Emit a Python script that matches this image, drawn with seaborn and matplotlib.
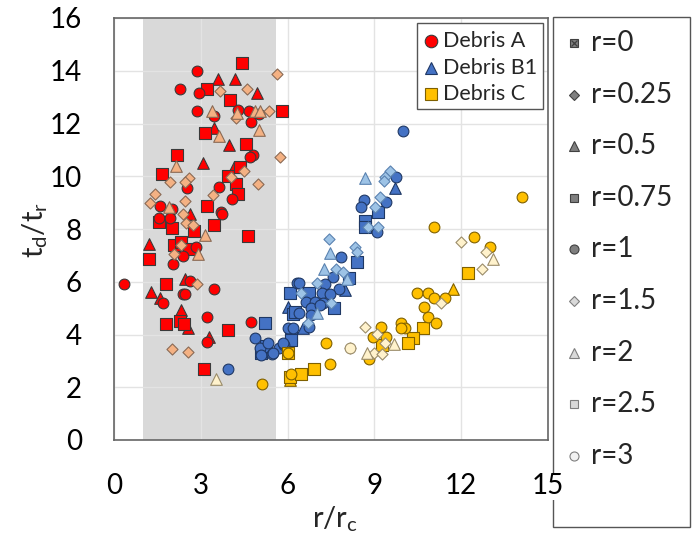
import matplotlib
matplotlib.use("Agg")
import matplotlib.pyplot as plt
import numpy as np
import pandas as pd
import seaborn as sns
from matplotlib.lines import Line2D
from matplotlib.patches import Rectangle

# ---------------------------------------------------------------- data
# Each debris set: x = r/rc, y = td/tr, r = r value of the run
debris_a_x = [4.44, 2.86, 3.61, 4.17, 5.64, 2.28, 3.20, 2.93, 3.68, 4.61, 4.94, 4.00,
              2.86, 3.40, 3.46, 4.25, 4.28, 4.23, 4.66, 4.86, 5.03, 5.01, 5.36, 5.79,
              4.72, 3.46, 3.14, 5.02, 3.62, 3.98, 4.57, 4.80, 4.71, 5.75, 2.17, 2.15,
              3.06, 1.66, 4.14, 4.37, 3.94, 4.06, 4.48, 4.23, 4.29, 4.98, 2.59, 1.93,
              2.45, 2.53, 3.62, 4.07, 3.43, 1.42, 1.26, 1.59, 1.90, 2.01, 2.46, 3.20,
              3.71, 3.74, 1.54, 1.93, 1.56, 2.37, 2.62, 2.48, 2.74, 3.46, 2.02, 2.77,
              3.14, 4.64, 1.21, 2.08, 2.30, 2.33, 2.82, 2.59, 2.07, 2.89, 2.37, 1.21,
              2.05, 0.36, 1.79, 2.44, 2.62, 2.87, 3.45, 1.28, 1.59, 1.68, 2.39, 2.46,
              2.33, 3.20, 4.72, 1.79, 2.28, 2.41, 2.56, 3.94, 3.29, 3.20, 2.02, 2.55,
              3.11]
debris_a_y = [14.31, 13.98, 13.67, 13.67, 13.89, 13.30, 13.30, 13.17, 13.23, 13.30, 13.17, 12.88,
              12.48, 12.46, 12.27, 12.40, 12.50, 12.22, 12.48, 12.46, 12.46, 12.37, 12.48, 12.48,
              12.06, 11.84, 11.64, 11.74, 11.52, 11.20, 11.24, 10.82, 10.73, 10.73, 10.82, 10.38,
              10.50, 10.10, 10.35, 10.35, 10.01, 9.97, 10.20, 9.70, 9.34, 9.70, 9.94, 9.79,
              9.79, 9.56, 9.58, 9.15, 9.28, 9.31, 8.97, 8.86, 8.84, 8.75, 9.05, 8.88,
              8.65, 8.55, 8.42, 8.42, 8.27, 8.55, 8.55, 8.23, 8.14, 8.14, 8.02, 7.92,
              7.77, 7.73, 7.45, 7.39, 7.39, 7.51, 7.30, 7.23, 7.07, 7.07, 6.97, 6.88,
              6.69, 5.93, 5.93, 6.12, 6.03, 5.93, 5.72, 5.62, 5.37, 5.20, 5.53, 5.53,
              4.92, 4.67, 4.48, 4.38, 4.51, 4.38, 4.23, 4.17, 3.89, 3.72, 3.45, 3.32,
              2.71]
debris_a_r = [0.75, 1, 0.5, 0.5, 1.5, 1, 0.75, 1, 1.5, 1.5, 0.5, 0.75,
              1, 2, 1, 2, 1, 1.5, 1, 2, 2, 1, 1.5, 0.75,
              1, 0.5, 0.75, 2, 2, 0.5, 0.75, 1, 1, 1.5, 0.75, 2,
              0.5, 0.75, 0.5, 0.75, 0.75, 1.5, 1.5, 0.75, 0.75, 1.5, 1.5, 1.5,
              1.5, 1, 1, 1, 1.5, 1.5, 1.5, 1, 2, 1, 1.5, 0.75,
              1, 1, 1, 1, 0.75, 1.5, 0.5, 1.5, 1.5, 0.75, 0.75, 0.75,
              2, 0.75, 0.5, 0.75, 1.5, 0.75, 1, 0.75, 1.5, 2, 1, 0.75,
              1, 1, 0.75, 0.5, 1, 1.5, 1, 0.5, 0.5, 1, 1, 1,
              0.5, 1, 1, 0.75, 0.75, 0.75, 0.5, 0.75, 0.5, 1, 1.5, 1.5,
              0.75]

debris_b1_x = [3.95, 5.22, 4.86, 5.03, 5.09, 5.09, 5.32, 5.25, 5.47, 5.72, 5.87, 6.01,
               6.18, 6.13, 6.07, 6.33, 6.03, 6.18, 7.43, 8.34, 8.39, 8.39, 7.47, 7.85,
               7.25, 7.68, 7.56, 7.93, 8.05, 8.11, 6.39, 7.02, 7.28, 7.77, 6.47, 6.74,
               7.19, 7.45, 6.62, 6.93, 7.22, 7.51, 7.62, 6.24, 6.41, 6.82, 7.13, 7.02,
               6.82, 6.72, 6.74, 6.53, 6.13, 5.84, 5.49, 7.97, 9.98, 8.66, 9.54, 9.38,
               9.34, 9.75, 9.72, 8.63, 8.55, 9.20, 9.40, 9.02, 9.14, 8.69, 8.69, 8.77,
               9.14, 9.08]
debris_b1_y = [2.69, 4.42, 3.88, 3.47, 3.28, 3.22, 3.66, 3.55, 3.26, 3.47, 3.60, 4.23,
               4.23, 3.91, 5.58, 5.97, 5.03, 4.77, 7.63, 7.32, 7.13, 6.73, 7.09, 6.92,
               6.50, 6.50, 6.19, 6.38, 6.12, 6.16, 5.96, 5.96, 5.93, 5.74, 5.59, 5.59,
               5.58, 5.55, 5.25, 5.25, 5.18, 5.20, 4.99, 4.84, 4.80, 4.99, 5.11, 4.80,
               4.73, 4.42, 4.27, 4.23, 3.81, 3.66, 3.28, 5.68, 11.70, 9.95, 10.20, 9.97,
               9.82, 9.97, 9.57, 9.09, 8.84, 9.22, 9.03, 8.84, 8.65, 8.30, 8.08, 8.06,
               8.08, 7.89]
debris_b1_r = [1, 0.75, 1, 1, 0.75, 1, 1, 0.75, 1, 1, 1, 1,
               1, 0.75, 0.75, 1, 0.5, 0.75, 1.5, 1.5, 1.5, 0.75, 2, 1,
               2, 1.5, 1, 1.5, 2, 0.75, 1, 1.5, 1, 1, 1.5, 0.75,
               1, 1, 1, 1, 1, 1.5, 0.75, 0.75, 1, 1, 1, 2,
               1, 1.5, 1, 0.5, 0.75, 1, 1, 0.5, 1, 2, 1.5, 1.5,
               1.5, 1, 0.5, 1, 1, 1.5, 1, 1.5, 0.75, 0.75, 0.75, 1.5,
               1.5, 1]

debris_c_x = [3.52, 6.01, 6.00, 6.13, 6.07, 5.11, 6.10, 6.47, 6.91, 7.31, 7.48, 8.14,
              8.14, 8.66, 8.94, 9.08, 9.23, 9.40, 9.37, 9.67, 9.26, 8.74, 8.98, 9.25,
              8.83, 9.92, 10.07, 9.92, 10.69, 10.32, 10.15, 10.84, 11.13, 10.72, 10.46, 10.84,
              11.07, 11.45, 11.30, 11.70, 12.24, 12.71, 13.11, 12.87, 13.00, 12.01, 12.44, 11.05,
              14.09]
debris_c_y = [2.30, 3.28, 3.30, 2.50, 2.40, 2.12, 2.27, 2.50, 2.71, 3.66, 2.88, 3.47,
              3.47, 4.27, 3.89, 4.02, 4.27, 3.89, 3.66, 3.64, 3.60, 3.28, 3.28, 3.26,
              3.06, 4.44, 4.25, 4.25, 4.25, 3.88, 3.66, 4.65, 4.42, 5.03, 5.58, 5.58,
              5.40, 5.40, 5.20, 5.74, 6.35, 6.50, 6.88, 7.13, 7.30, 7.51, 7.68, 8.06,
              9.22]
debris_c_r = [2, 0.75, 1, 1, 0.75, 1, 0.5, 0.75, 0.75, 1, 1, 3,
              1.5, 1.5, 1, 1.5, 1, 1, 1.5, 2, 0.75, 2, 1.5, 1.5,
              1, 1, 1, 1, 0.75, 0.75, 0.75, 1, 1, 1, 1, 1,
              1, 1, 1.5, 0.5, 0.75, 1.5, 2, 1.5, 1, 1.5, 1, 1,
              1]

debris_names = ["Debris A", "Debris B1", "Debris C"]
r_levels = [0, 0.25, 0.5, 0.75, 1, 1.5, 2, 2.5, 3]
r_labels = ["r=0", "r=0.25", "r=0.5", "r=0.75", "r=1", "r=1.5", "r=2", "r=2.5", "r=3"]
shaded_band = (1.0, 5.6)

# ---------------------------------------------------------------- styles
# (face, edge) for runs with r <= 1 and r >= 1.5
colors = {
    "Debris A": (("#FF0000", "#3a3a3a"), ("#F4B183", "#8a6a55")),
    "Debris B1": (("#4472C4", "#1f3864"), ("#9DC3E6", "#5a82b0")),
    "Debris C": (("#FFC000", "#7f6000"), ("#FFF2CC", "#9a8c6a")),
}
markers = {0: "s", 0.25: "D", 0.5: "^", 0.75: "s", 1: "o",
           1.5: "D", 2: "^", 2.5: "s", 3: "o"}
sizes = {"o": 60, "s": 64, "^": 70, "D": 32}

frames = []
for name, xs, ys, rs in [("Debris A", debris_a_x, debris_a_y, debris_a_r),
                         ("Debris B1", debris_b1_x, debris_b1_y, debris_b1_r),
                         ("Debris C", debris_c_x, debris_c_y, debris_c_r)]:
    frames.append(pd.DataFrame({"x": xs, "y": ys, "r": rs, "debris": name}))
df = pd.concat(frames, ignore_index=True)

# ---------------------------------------------------------------- figure
sns.set_theme(style="white")
plt.rcParams["font.family"] = ["Lato", "DejaVu Sans"]
plt.rcParams["mathtext.fontset"] = "custom"
plt.rcParams["mathtext.rm"] = "Lato"
plt.rcParams["mathtext.it"] = "Lato"

W, H = 696, 547
fig = plt.figure(figsize=(W / 100, H / 100), dpi=100)
ax = fig.add_axes([114 / W, 1 - 440 / H, (548 - 114) / W, (440 - 18) / H])

ax.axvspan(*shaded_band, color="#D9D9D9", zorder=0.2, lw=0)

for name in debris_names:
    for r in r_levels:
        sub = df[(df.debris == name) & (df.r == r)]
        if sub.empty:
            continue
        face, edge = colors[name][0 if r <= 1 else 1]
        m = markers[r]
        sns.scatterplot(data=sub, x="x", y="y", ax=ax, marker=m, s=sizes[m],
                        color=face, edgecolor=edge, linewidth=0.8,
                        legend=False, zorder=2)

ax.set_xlim(0, 15)
ax.set_ylim(0, 16)
ax.set_xticks(np.arange(0, 16, 3))
ax.set_yticks(np.arange(0, 17, 2))
ax.set_axisbelow(True)
ax.grid(True, color="#E3E3E3", lw=1.0)
ax.set_xlabel("")
ax.set_ylabel("")
ax.tick_params(axis="both", length=0, labelsize=20, labelcolor="#000000")
ax.tick_params(axis="x", pad=24)
ax.tick_params(axis="y", pad=23)
for lbl in ax.get_xticklabels():
    lbl.set_bbox(dict(facecolor="white", edgecolor="none", pad=0.5))
for side, sp in ax.spines.items():
    sp.set_visible(True)
    sp.set_color("#666666")
    sp.set_linewidth(1.2)

fig.text(35 / W, 1 - 230 / H, r"$\mathregular{t_d/t_r}$", rotation=90,
         ha="center", va="center", fontsize=21)
fig.text(335 / W, 1 - 519 / H, r"$\mathregular{r/r_c}$",
         ha="center", va="center", fontsize=21)

# ---------------------------------------------------------------- debris legend
def fx(px):
    return px / W


def fy(py):
    return 1 - py / H


fig.add_artist(Rectangle((fx(417), fy(109)), (543 - 417) / W, (109 - 23) / H,
                         transform=fig.transFigure, facecolor="white",
                         edgecolor="#555555", lw=1.0, zorder=5))
for i, (name, m) in enumerate(zip(debris_names, ["o", "^", "s"])):
    yy = 41 + i * 26.5
    face, edge = colors[name][0]
    fig.add_artist(Line2D([fx(431)], [fy(yy)], marker=m, markersize=8.5 if m != "o" else 9,
                          markerfacecolor=face, markeredgecolor=edge, markeredgewidth=0.8,
                          linestyle="none", transform=fig.transFigure, zorder=6))
    fig.text(fx(443), fy(yy), name, ha="left", va="center", fontsize=15.5, zorder=6)

# ---------------------------------------------------------------- r legend
# frame sits beneath the axes so the last x tick label stays readable
fig.add_artist(Rectangle((fx(553), fy(527)), (690 - 553) / W, (527 - 17) / H,
                         transform=fig.transFigure, facecolor="white",
                         edgecolor="#555555", lw=1.0, zorder=-1))
for i, (r, lab) in enumerate(zip(r_levels, r_labels)):
    yy = 43 + i * 51.6
    m = markers[r]
    if r <= 1:
        face, edge = "#7F7F7F", "#404040"
    else:
        face, edge = ("#F2F2F2" if r == 3 else "#D9D9D9"), "#7F7F7F"
    ms = {"o": 6.5, "s": 6, "^": 7, "D": 5}[m]
    fig.add_artist(Line2D([fx(574)], [fy(yy)], marker=m, markersize=ms,
                          markerfacecolor=face, markeredgecolor=edge, markeredgewidth=0.8,
                          linestyle="none", transform=fig.transFigure, zorder=6))
    if r == 0:
        fig.add_artist(Line2D([fx(574)], [fy(yy)], marker="x", markersize=5,
                              markeredgecolor="#404040", markeredgewidth=0.9,
                              linestyle="none", transform=fig.transFigure, zorder=7))
    fig.text(fx(591), fy(yy), lab, ha="left", va="center", fontsize=20, zorder=6)

fig.savefig("out.png", dpi=100)
